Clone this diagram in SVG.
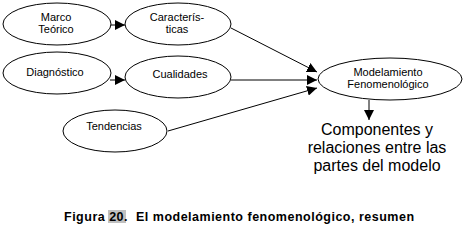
<svg xmlns="http://www.w3.org/2000/svg" width="466" height="225" viewBox="0 0 466 225">
<style>
.n{fill:#fff;stroke:#000;stroke-width:1}
.t{font-family:"Liberation Sans",Arial,sans-serif;font-size:11px;fill:#000;text-anchor:middle}
.c{stroke:#000;stroke-width:1;fill:none}
.big{font-family:"Liberation Sans",Arial,sans-serif;font-size:16px;fill:#000;text-anchor:middle}
.cap{font-family:"Liberation Sans",Arial,sans-serif;font-size:12.5px;font-weight:bold;fill:#000;letter-spacing:0.5px;white-space:pre}
</style>
<defs>
<marker id="ah" viewBox="0 0 10 10" refX="10" refY="5" markerWidth="10" markerHeight="10" markerUnits="userSpaceOnUse" orient="auto">
<path d="M0,0 L10,5 L0,10 Z" fill="#000"/>
</marker>
</defs>
<rect width="466" height="225" fill="#fff"/>
<g id="connectors">
<line class="c" x1="110" y1="25" x2="125" y2="25" marker-end="url(#ah)"/>
<line class="c" x1="110" y1="80" x2="125" y2="80" marker-end="url(#ah)"/>
<line class="c" x1="231" y1="28" x2="317" y2="72" marker-end="url(#ah)"/>
<line class="c" x1="231" y1="80" x2="317" y2="80" marker-end="url(#ah)"/>
<line class="c" x1="168" y1="131" x2="317" y2="88" marker-end="url(#ah)"/>
<line class="c" x1="369" y1="100" x2="369" y2="120" marker-end="url(#ah)"/>
</g>
<g id="marco">
<ellipse class="n" cx="57" cy="24" rx="54" ry="21"/>
<text class="t" x="56" y="21">Marco</text>
<text class="t" x="56" y="33">Teórico</text>
</g>
<g id="caracteristicas">
<ellipse class="n" cx="178" cy="24" rx="53" ry="21"/>
<text class="t" x="177" y="21">Caracterís-</text>
<text class="t" x="177" y="33">ticas</text>
</g>
<g id="diagnostico">
<ellipse class="n" cx="57" cy="73" rx="54" ry="21"/>
<text class="t" x="55" y="76">Diagnóstico</text>
</g>
<g id="cualidades">
<ellipse class="n" cx="178" cy="77" rx="53" ry="21"/>
<text class="t" x="180" y="78">Cualidades</text>
</g>
<g id="tendencias">
<ellipse class="n" cx="115" cy="131" rx="52" ry="21"/>
<text class="t" x="114" y="130">Tendencias</text>
</g>
<g id="modelamiento">
<ellipse class="n" cx="390" cy="79" rx="72" ry="21"/>
<text class="t" x="388" y="76">Modelamiento</text>
<text class="t" x="388" y="88">Fenomenológico</text>
</g>
<g id="componentes">
<text class="big" x="377" y="135">Componentes y</text>
<text class="big" x="377" y="153">relaciones entre las</text>
<text class="big" x="377" y="171">partes del modelo</text>
</g>
<g id="caption">
<rect x="108" y="210" width="18" height="13" fill="#c0c0c0"/>
<text class="cap" x="64" y="221" xml:space="preserve">Figura 20.  El modelamiento fenomenológico, resumen</text>
</g>
</svg>
